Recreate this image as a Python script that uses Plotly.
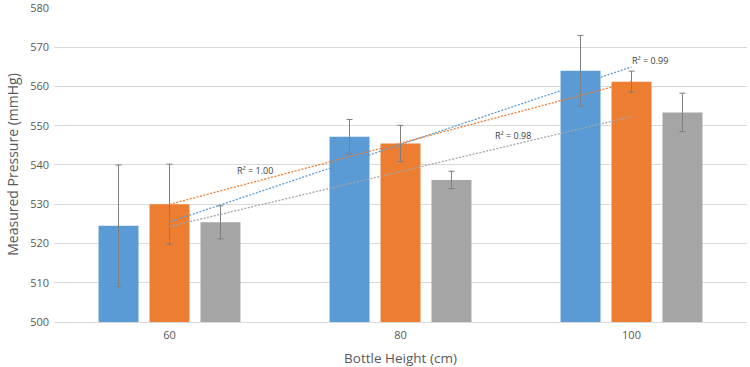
import numpy as np
import plotly.graph_objects as go

categories = ["60", "80", "100"]
series_names = ["Series 1", "Series 2", "Series 3"]
blue_vals = [524.5, 547.2, 564.0]
orange_vals = [530.0, 545.5, 561.2]
gray_vals = [525.4, 536.2, 553.4]
blue_err = [15.5, 4.4, 9.0]
orange_err = [10.2, 4.6, 2.7]
gray_err = [4.2, 2.2, 4.9]
y_ticks = [500, 510, 520, 530, 540, 550, 560, 570, 580]

colors = ["#5b9bd5", "#ed7d31", "#a5a5a5"]
xpos = np.arange(len(categories))

fig = go.Figure()
for name, vals, err, c in zip(series_names, [blue_vals, orange_vals, gray_vals],
                              [blue_err, orange_err, gray_err], colors):
    fig.add_trace(go.Bar(
        x=xpos, y=[v - 500 for v in vals], base=500, name=name, marker_color=c,
        marker_line_width=0,
        error_y=dict(type="data", array=err, color="#7f7f7f", thickness=1, width=3),
    ))

# linear trendlines with R^2
r2_pos = [(2.08, 566.6), (0.37, 538.6), (1.485, 547.6)]
for vals, c, pos in zip([blue_vals, orange_vals, gray_vals], colors, r2_pos):
    slope, icpt = np.polyfit(xpos, vals, 1)
    fit = slope * xpos + icpt
    ss_res = np.sum((np.array(vals) - fit) ** 2)
    ss_tot = np.sum((np.array(vals) - np.mean(vals)) ** 2)
    r2 = 1 - ss_res / ss_tot
    fig.add_trace(go.Scatter(
        x=[xpos[0], xpos[-1]], y=[fit[0], fit[-1]], mode="lines",
        line=dict(color=c, width=1.3, dash="2px,1.5px"), showlegend=False, hoverinfo="skip",
    ))
    fig.add_annotation(x=pos[0], y=pos[1], text=f"R\u00b2 = {r2:.2f}", showarrow=False,
                       font=dict(size=9, color="#404040", family="Open Sans"))

fig.update_layout(
    width=750, height=367,
    margin=dict(l=54, r=3, t=7, b=45),
    paper_bgcolor="white", plot_bgcolor="white",
    barmode="group", bargap=0.338, bargroupgap=0.216,
    showlegend=False,
    font=dict(family="Open Sans", color="#595959", size=11),
)
fig.update_xaxes(
    range=[-0.5, 2.5], tickvals=list(xpos), ticktext=categories, automargin=False,
    showgrid=False, showline=True, linecolor="#d9d9d9", linewidth=1,
    ticks="", tickfont=dict(size=11, color="#595959"), ticklabelstandoff=3,
    title=dict(text="Bottle Height (cm)", font=dict(size=13.5, color="#595959"), standoff=13),
)
fig.update_yaxes(
    range=[500, 580.25], tickvals=y_ticks, showgrid=True, gridcolor="#d9d9d9", gridwidth=1,
    zeroline=False, ticks="", tickfont=dict(size=11, color="#595959"), automargin=False,
    ticklabelstandoff=4, ticklabeloverflow="allow",
    title=dict(text="Measured Pressure (mmHg)", font=dict(size=14, color="#595959"), standoff=8),
)

fig.write_html("out.html", config={"displayModeBar": False},
               post_script="document.body.style.margin='0';")
